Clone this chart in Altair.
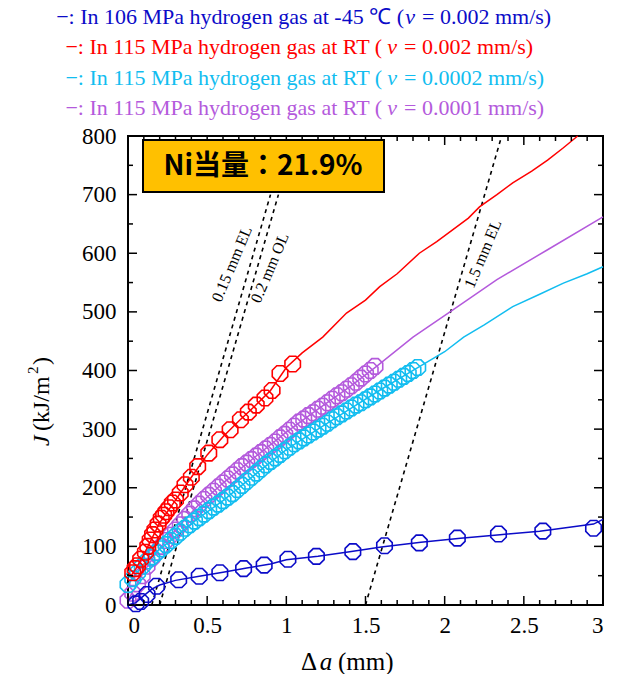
import altair as alt
import pandas as pd

# ---------------- data ----------------
# Blue: 106 MPa H2 at -45 C, v = 0.002 mm/s
blue_line_x = [0.00, 0.05, 0.10, 0.15, 0.20, 0.30, 0.45, 0.60, 0.75, 0.90, 1.00, 1.20, 1.40, 1.60, 1.85, 2.10, 2.35, 2.60, 2.80, 2.94, 3.00]
blue_line_J = [0, 4, 16, 27, 34, 42, 49, 56, 63, 70, 77, 83, 91, 99, 107, 114, 120, 126, 133, 138, 146]
blue_mk_x = [0.05, 0.08, 0.12, 0.18, 0.32, 0.45, 0.58, 0.73, 0.86, 1.01, 1.19, 1.42, 1.62, 1.84, 2.08, 2.34, 2.62, 2.94]
blue_mk_J = [2, 6, 18, 32, 43, 49, 55, 62, 68, 78, 83, 91, 101, 106, 114, 121, 126, 131]

# Red: 115 MPa H2 at RT, v = 0.002 mm/s
red_line_x = [0.02, 0.05, 0.10, 0.20, 0.30, 0.40, 0.50, 0.60, 0.70, 0.80, 0.90, 1.00, 1.10, 1.23, 1.38, 1.50, 1.59, 1.70, 1.84, 1.95, 2.05, 2.15, 2.22, 2.33, 2.43, 2.55, 2.65, 2.75, 2.84]
red_line_J = [50, 62, 86, 140, 179, 218, 256, 287, 314, 339, 366, 405, 430, 457, 498, 520, 543, 565, 600, 620, 640, 660, 679, 700, 720, 740, 759, 780, 800]
red_mk_x = [0.03, 0.045, 0.06, 0.08, 0.11, 0.125, 0.14, 0.155, 0.17, 0.19, 0.21, 0.225, 0.24, 0.26, 0.28, 0.30, 0.33, 0.36, 0.40, 0.44, 0.51, 0.58, 0.645, 0.71, 0.76, 0.81, 0.865, 0.91, 0.96, 1.04]
red_mk_J = [55, 62, 67, 78, 90, 100, 111, 120, 128, 138, 148, 153, 159, 166, 174, 179, 191, 205, 218, 236, 259, 282, 299, 316, 329, 341, 353, 366, 395, 411]

# Cyan: 115 MPa H2 at RT, v = 0.0002 mm/s
cyan_line_x = [0.00, 0.10, 0.20, 0.30, 0.45, 0.60, 0.80, 1.00, 1.20, 1.40, 1.60, 1.83, 2.00, 2.12, 2.25, 2.43, 2.60, 2.75, 2.90, 3.00]
cyan_line_J = [35, 70, 95, 117, 149, 178, 222, 265, 300, 334, 368, 405, 432, 457, 478, 509, 530, 549, 565, 577]
cyan_mk_x = [0.00, 0.03, 0.06, 0.09, 0.12, 0.15, 0.18, 0.21, 0.24, 0.27, 0.30, 0.33, 0.36, 0.39, 0.42, 0.45,
             0.48, 0.51, 0.54, 0.57, 0.60, 0.63, 0.66, 0.69, 0.72, 0.75, 0.78, 0.81, 0.84, 0.87, 0.90, 0.93,
             0.96, 0.99, 1.02, 1.05, 1.08, 1.11, 1.14, 1.17, 1.20, 1.23, 1.26, 1.29, 1.32, 1.35, 1.38, 1.41,
             1.44, 1.47, 1.50, 1.53, 1.56, 1.59, 1.62, 1.65, 1.68, 1.71, 1.74, 1.77, 1.80, 1.83]
cyan_mk_J = [35, 45, 55, 66, 75, 82, 89, 96, 103, 110, 117, 124, 131, 137, 143, 149,
             155, 161, 167, 172, 178, 184, 190, 197, 204, 211, 218, 225, 232, 239, 245, 251,
             257, 263, 269, 275, 280, 285, 290, 295, 300, 305, 310, 316, 321, 326, 331, 336,
             341, 345, 350, 355, 360, 365, 370, 375, 380, 385, 390, 395, 400, 405]

# Purple: 115 MPa H2 at RT, v = 0.0001 mm/s
purple_line_x = [0.00, 0.10, 0.20, 0.30, 0.45, 0.60, 0.80, 1.00, 1.20, 1.40, 1.57, 1.80, 2.05, 2.33, 2.65, 3.00]
purple_line_J = [8, 57, 97, 128, 172, 208, 252, 295, 334, 372, 407, 457, 503, 555, 606, 662]
purple_mk_x = [0.00, 0.03, 0.06, 0.09, 0.12, 0.15, 0.18, 0.21, 0.24, 0.27, 0.30, 0.33, 0.36, 0.39, 0.42, 0.45,
               0.48, 0.51, 0.54, 0.57, 0.60, 0.63, 0.66, 0.69, 0.72, 0.75, 0.78, 0.81, 0.84, 0.87, 0.90, 0.93,
               0.96, 0.99, 1.02, 1.05, 1.08, 1.11, 1.14, 1.17, 1.20, 1.23, 1.26, 1.29, 1.32, 1.35, 1.38, 1.41,
               1.44, 1.47, 1.50, 1.53, 1.56]
purple_mk_J = [8, 20, 36, 50, 66, 80, 90, 100, 110, 119, 128, 137, 146, 155, 164, 172,
               180, 187, 194, 201, 208, 215, 222, 229, 236, 242, 248, 254, 260, 266, 272, 278,
               285, 291, 298, 305, 312, 317, 323, 328, 334, 339, 345, 351, 357, 362, 368, 374,
               380, 387, 394, 400, 407]

# Construction (blunting / exclusion) lines
el015_x = [0.15, 0.90]; el015_J = [0, 700]
ol02_x = [0.20, 0.95];  ol02_J = [0, 700]
el15_x = [1.50, 2.36];  el15_J = [0, 800]

x_major = [0, 0.5, 1, 1.5, 2, 2.5, 3]
x_minor = [0.1, 0.2, 0.3, 0.4, 0.6, 0.7, 0.8, 0.9, 1.1, 1.2, 1.3, 1.4, 1.6, 1.7, 1.8, 1.9,
           2.1, 2.2, 2.3, 2.4, 2.6, 2.7, 2.8, 2.9]
y_major = [0, 100, 200, 300, 400, 500, 600, 700, 800]
y_minor = [50, 150, 250, 350, 450, 550, 650, 750]

legend_prefix = ["−: In 106 MPa hydrogen gas at -45 ℃ (",
                 "−: In 115 MPa hydrogen gas at RT (",
                 "−: In 115 MPa hydrogen gas at RT (",
                 "−: In 115 MPa hydrogen gas at RT ("]
legend_suffix = ["= 0.002 mm/s)", "= 0.002 mm/s)", "= 0.0002 mm/s)", "= 0.0001 mm/s)"]

BLUE, RED, CYAN, PURPLE = "#0b0bc8", "#ff0000", "#12bdf0", "#b45adc"
colors = [BLUE, RED, CYAN, PURPLE]

# ---------------- layout ----------------
W, H = 475, 469
SERIF = "Liberation Serif"
xs = alt.Scale(domain=[0, 3], nice=False, zero=False)
ys = alt.Scale(domain=[0, 800], nice=False, zero=False)
XAX = alt.Axis(values=x_major, format="~g", title=None, labelPadding=9)
YAX = alt.Axis(values=y_major, title=None, labelPadding=12)
OCT = "M -0.414 -1 L 0.414 -1 L 1 -0.414 L 1 0.414 L 0.414 1 L -0.414 1 L -1 0.414 L -1 -0.414 Z"


def df(x, y):
    return pd.DataFrame({"x": x, "J": y})


def X():
    return alt.X("x:Q", scale=xs, axis=XAX)


def Y():
    return alt.Y("J:Q", scale=ys, axis=YAX)


layers = []

# dashed construction lines
for xx, jj in [(el015_x, el015_J), (ol02_x, ol02_J), (el15_x, el15_J)]:
    layers.append(
        alt.Chart(df(xx, jj)).mark_line(color="black", strokeWidth=1.6, strokeDash=[4, 4]).encode(x=X(), y=Y())
    )

series = [
    (purple_line_x, purple_line_J, purple_mk_x, purple_mk_J, PURPLE),
    (cyan_line_x, cyan_line_J, cyan_mk_x, cyan_mk_J, CYAN),
    (red_line_x, red_line_J, red_mk_x, red_mk_J, RED),
    (blue_line_x, blue_line_J, blue_mk_x, blue_mk_J, BLUE),
]
for lx, lj, mx, mj, c in series:
    layers.append(alt.Chart(df(lx, lj)).mark_line(color=c, strokeWidth=1.5).encode(x=X(), y=Y()))
    layers.append(
        alt.Chart(df(mx, mj)).mark_point(shape=OCT, size=240, filled=False, color=c, strokeWidth=1.6, opacity=1).encode(
            x=X(), y=Y()
        )
    )


# inward ticks on all four sides
def vrules(vals, y0, y1):
    return alt.Chart(pd.DataFrame({"x": vals})).mark_rule(color="black", strokeWidth=1.5).encode(
        x=X(), y=alt.value(y0), y2=alt.value(y1))


def hrules(vals, x0, x1):
    return alt.Chart(pd.DataFrame({"J": vals})).mark_rule(color="black", strokeWidth=1.5).encode(
        y=Y(), x=alt.value(x0), x2=alt.value(x1))


layers += [
    vrules(x_major, H, H - 9), vrules(x_minor, H, H - 5),
    vrules(x_major, 0, 9), vrules(x_minor, 0, 5),
    hrules(y_major, 0, 9), hrules(y_minor, 0, 5),
    hrules(y_major, W, W - 9), hrules(y_minor, W, W - 5),
]


def text(t, x, y, **kw):
    return alt.Chart(pd.DataFrame({"t": [t]})).mark_text(**kw).encode(
        text="t:N", x=alt.value(x), y=alt.value(y))


# construction line labels
layers.append(text("0.15 mm EL", 104, 128, font=SERIF, fontSize=16, angle=293, color="black"))
layers.append(text("0.2 mm OL", 142, 132, font=SERIF, fontSize=16, angle=293, color="black"))
layers.append(text("1.5 mm EL", 355, 118, font=SERIF, fontSize=16, angle=293, color="black"))

# Ni equivalent box
layers.append(
    alt.Chart(pd.DataFrame({"a": [0]})).mark_rect(fill="#ffc000", stroke="black", strokeWidth=2).encode(
        x=alt.value(15), x2=alt.value(256), y=alt.value(4), y2=alt.value(56))
)
layers.append(text("Ni当量：21.9%", 135, 31, font="Noto Sans CJK JP", fontSize=28, fontWeight="bold",
                   color="black", align="center", baseline="middle"))

# legend lines at the top
v_x = [282, 264, 264, 264]
gap = [6, 10, 10, 10]
l_y = [-119, -89, -58, -28]
for i in range(4):
    layers.append(text(legend_prefix[i], v_x[i] - gap[i], l_y[i], font=SERIF, fontSize=22, color=colors[i],
                       align="right", baseline="middle"))
    layers.append(text("v", v_x[i], l_y[i], font=SERIF, fontSize=22, fontStyle="italic", color=colors[i],
                       align="center", baseline="middle"))
    layers.append(text(legend_suffix[i], v_x[i] + 12, l_y[i], font=SERIF, fontSize=22, color=colors[i],
                       align="left", baseline="middle"))

# x-axis title: Δ a (mm)
layers.append(text("Δ", 181, H + 57, font=SERIF, fontSize=25, color="black", align="center", baseline="middle"))
layers.append(text("a", 198, H + 57, font=SERIF, fontSize=25, fontStyle="italic", color="black",
                   align="center", baseline="middle"))
layers.append(text("(mm)", 210, H + 57, font=SERIF, fontSize=25, color="black", align="left", baseline="middle"))

# y-axis title: J (kJ/m^2)
layers.append(text("J", -86, 310, font=SERIF, fontSize=24, fontStyle="italic", color="black",
                   angle=270, align="left", baseline="middle"))
layers.append(text("(kJ/m", -86, 295, font=SERIF, fontSize=24, color="black",
                   angle=270, align="left", baseline="middle"))
layers.append(text("2", -95, 238, font=SERIF, fontSize=15, color="black",
                   angle=270, align="left", baseline="middle"))
layers.append(text(")", -86, 229, font=SERIF, fontSize=24, color="black",
                   angle=270, align="left", baseline="middle"))

chart = alt.layer(*layers).properties(
    width=W, height=H,
    autosize=alt.AutoSizeParams(type="none"),
    padding={"left": 128, "top": 136, "right": 30, "bottom": 69},
).configure(font=SERIF).configure_view(stroke="black", strokeWidth=2).configure_axis(
    labelFont=SERIF, labelFontSize=23, labelColor="black", ticks=False, domain=False, grid=False
)

chart.save("out.html", embed_options={"renderer": "svg", "actions": False})
